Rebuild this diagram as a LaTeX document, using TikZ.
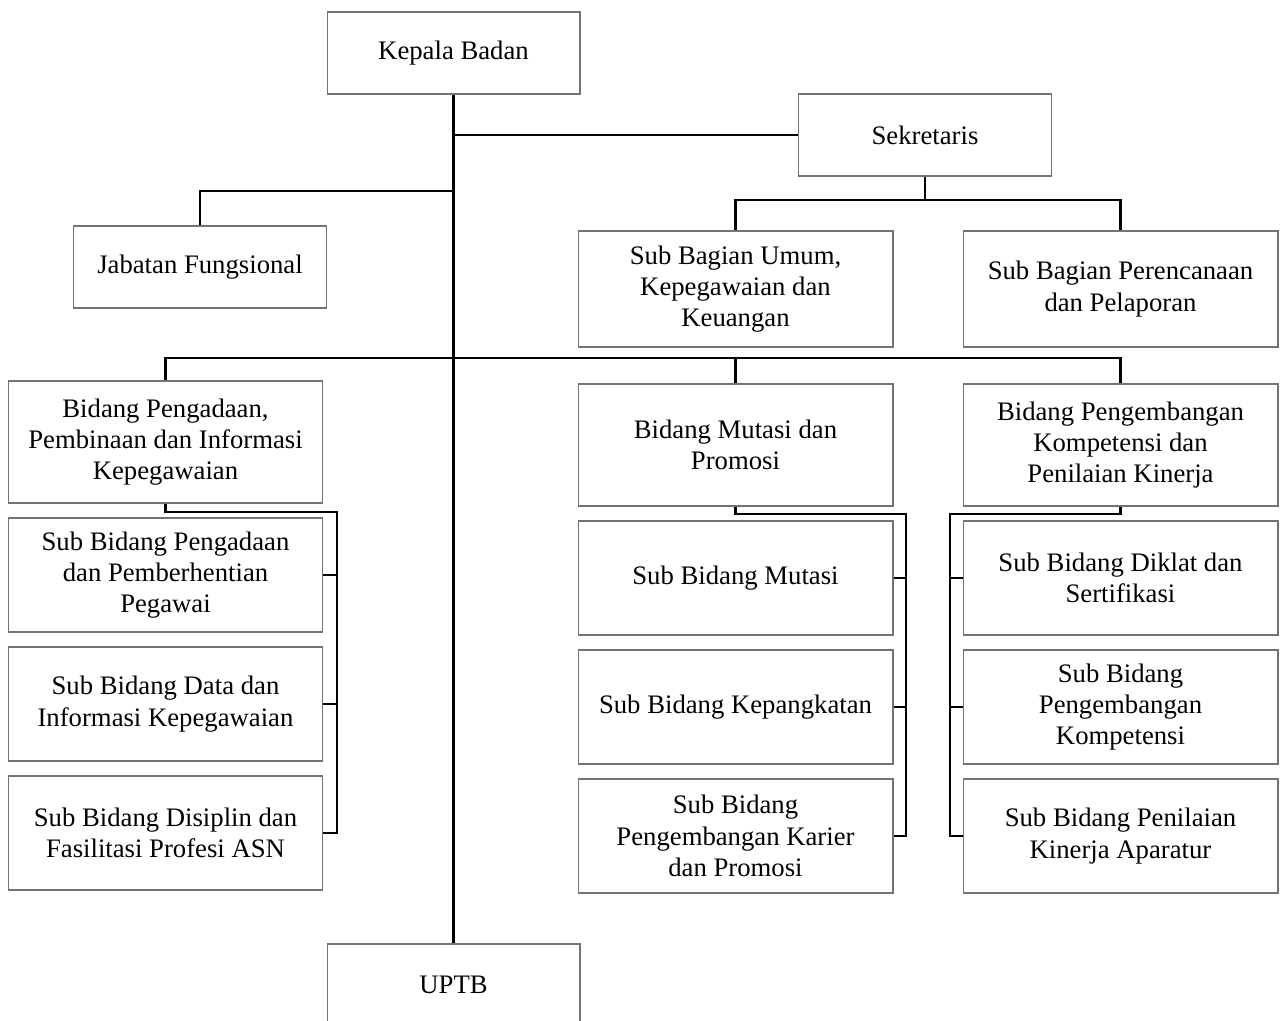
\documentclass[tikz,border=0pt]{standalone}
\usepackage{fontspec}
\setmainfont{Liberation Serif}
\begin{document}
\begin{tikzpicture}
[x=0.02cm,y=-0.02cm,
  boxdecorate/.style={draw=black!55,line width=0.6pt,align=center,inner sep=0pt,
    font=\fontsize{15.2}{17.8}\selectfont},
  smallbox/.style={boxdecorate,minimum width=5.06cm,minimum height=1.64cm},
  widebox/.style={boxdecorate,minimum width=6.3cm,minimum height=2.28cm},
  linedecorate/.style={line width=1.4pt,black}]
\useasboundingbox (0,0) rectangle (1285,1021);
%% top of the chart
\node (kepala) at (453.5,53) [smallbox] {Kepala Badan};
\node (sekretaris) at (925,135) [smallbox] {Sekretaris};
\node (jabatan) at (200,267) [smallbox] {Jabatan Fungsional};
\node (umum) at (735.5,289) [widebox,minimum height=2.32cm]
  {Sub Bagian Umum,\\Kepegawaian dan\\Keuangan};
\node (rencana) at (1120.5,289) [widebox,minimum height=2.32cm]
  {Sub Bagian Perencanaan\\dan Pelaporan};
\node (uptb) at (453.5,985) [smallbox] {UPTB};
%% bidang
\node (pengadaan) at (165.5,442) [widebox,minimum height=2.44cm]
  {Bidang Pengadaan,\\Pembinaan dan Informasi\\Kepegawaian};
\node (mutasi) at (735.5,445) [widebox,minimum height=2.44cm]
  {Bidang Mutasi dan\\Promosi};
\node (pengembangan) at (1120.5,445) [widebox,minimum height=2.44cm]
  {Bidang Pengembangan\\Kompetensi dan\\Penilaian Kinerja};
%% sub bidang
\foreach \nodename/\x/\y/\label in {
  lsub1/165.5/575/{Sub Bidang Pengadaan\\dan Pemberhentian\\Pegawai},
  lsub2/165.5/704/{Sub Bidang Data dan\\Informasi Kepegawaian},
  lsub3/165.5/833/{Sub Bidang Disiplin dan\\Fasilitasi Profesi ASN},
  msub1/735.5/578/{Sub Bidang Mutasi},
  msub2/735.5/707/{Sub Bidang Kepangkatan},
  msub3/735.5/836/{Sub Bidang\\Pengembangan Karier\\dan Promosi},
  rsub1/1120.5/578/{Sub Bidang Diklat dan\\Sertifikasi},
  rsub2/1120.5/707/{Sub Bidang\\Pengembangan\\Kompetensi},
  rsub3/1120.5/836/{Sub Bidang Penilaian\\Kinerja Aparatur}}
{
  \node (\nodename) at (\x,\y) [widebox] {\label};
}
%% lines
\coordinate (jabbar) at (453.5,191);
\coordinate (sekbar) at (925,200);
\coordinate (bidbar) at (453.5,358);
\coordinate (lbrk) at (337,512);
\coordinate (mbrk) at (906,514);
\coordinate (rbrk) at (950,514);
\draw[linedecorate] (kepala.south) -- (uptb.north);
\draw[linedecorate] (sekretaris.west) -- (sekretaris.west -| kepala.south);
\draw[linedecorate] (jabatan.north) |- (jabbar);
\draw[linedecorate] (sekretaris.south) -- (sekbar);
\draw[linedecorate] (umum.north) |- (sekbar) -| (rencana.north);
\draw[linedecorate] (pengadaan.north) |- (bidbar) -| (pengembangan.north);
\draw[linedecorate] (mutasi.north) -- (mutasi.north |- bidbar);
\draw[linedecorate] (pengadaan.south) |- (lbrk) -- (lbrk |- lsub3.east) -- (lsub3.east);
\draw[linedecorate] (mutasi.south) |- (mbrk) -- (mbrk |- msub3.east) -- (msub3.east);
\draw[linedecorate] (pengembangan.south) |- (rbrk) -- (rbrk |- rsub3.west) -- (rsub3.west);
\foreach \sub in {lsub1,lsub2,msub1,msub2}
  \draw[linedecorate] (\sub.east) -- ++(13,0);
\foreach \sub in {rsub1,rsub2}
  \draw[linedecorate] (\sub.west) -- ++(-13,0);
\end{tikzpicture}
\end{document}
